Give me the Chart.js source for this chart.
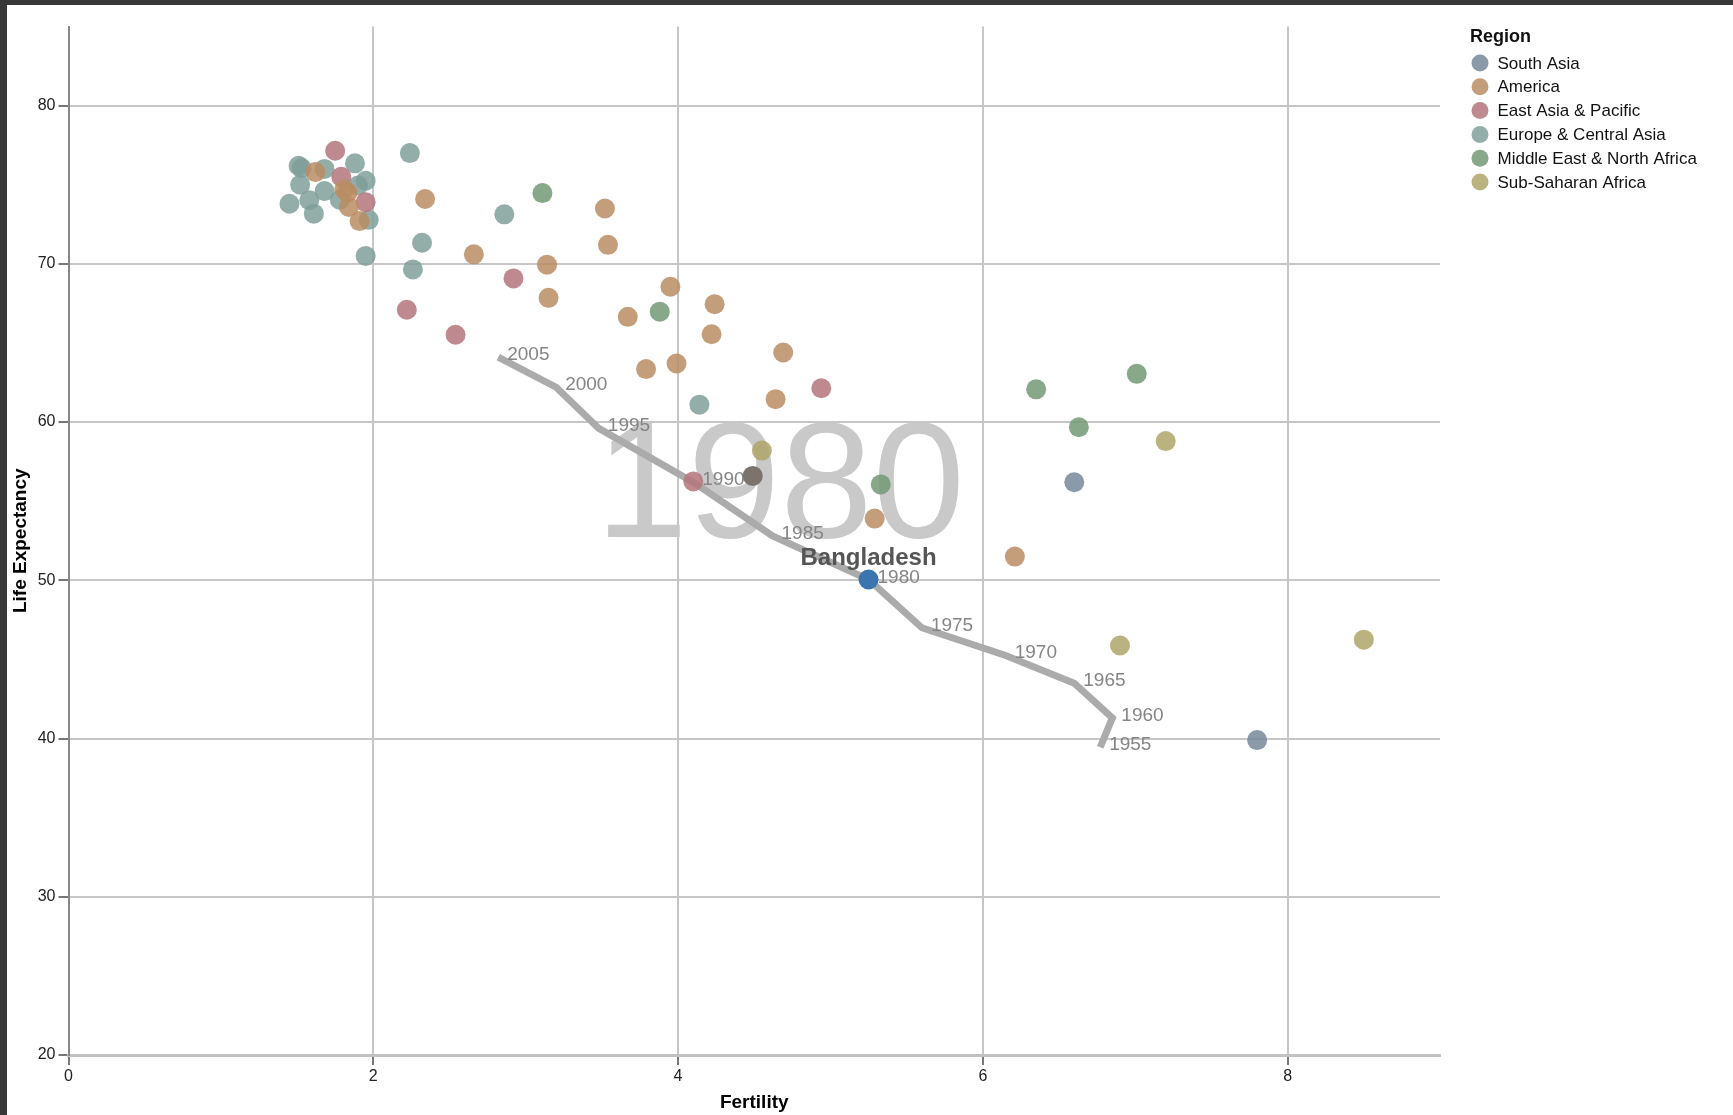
<!DOCTYPE html>
<html>
<head>
<meta charset="utf-8">
<title>Fertility vs Life Expectancy</title>
<script src="https://cdn.jsdelivr.net/npm/chart.js@4.4.1/dist/chart.umd.min.js"></script>
<style>
  html, body { margin: 0; padding: 0; background: #383838; }
  #frame { position: absolute; left: 7px; top: 5px; width: 1726px; height: 1110px; background: #fff; }
  canvas { display: block; }
</style>
</head>
<body>
<div id="frame"><canvas id="chart" width="1726" height="1110"></canvas></div>
<script>
// regions and their colours (legend order)
const regions = ['South Asia', 'America', 'East Asia & Pacific', 'Europe & Central Asia', 'Middle East & North Africa', 'Sub-Saharan Africa'];
const regionColors = [
  'rgba(117,136,153,0.85)',
  'rgba(186,141,100,0.85)',
  'rgba(180,117,123,0.85)',
  'rgba(128,159,154,0.85)',
  'rgba(115,153,117,0.85)',
  'rgba(175,166,104,0.85)'
];

// [fertility, life expectancy] for 1980
const southAsia = [[7.80, 39.9], [6.60, 56.2]];
const america = [
  [1.62, 75.8], [1.81, 74.7], [1.83, 74.5], [1.84, 73.6], [1.91, 72.7],
  [2.34, 74.1], [2.66, 70.6], [3.14, 69.95], [3.15, 67.85], [3.52, 73.5],
  [3.54, 71.2], [3.95, 68.55], [3.67, 66.65], [3.79, 63.35], [3.99, 63.7],
  [4.24, 67.45], [4.22, 65.55], [4.69, 64.4], [4.64, 61.45], [5.29, 53.9],
  [6.21, 51.5]
];
const eastAsia = [
  [1.75, 77.15], [1.79, 75.5], [1.95, 73.9], [2.22, 67.1], [2.54, 65.52],
  [2.92, 69.08], [4.94, 62.14], [4.10, 56.25]
];
const europe = [
  [1.88, 76.35], [1.51, 76.2], [1.53, 76.05], [1.68, 76.0], [1.95, 75.25],
  [1.52, 75.0], [1.90, 74.95], [1.68, 74.6], [1.45, 73.8], [1.58, 74.02],
  [1.61, 73.17], [1.78, 74.05], [1.97, 72.78], [1.95, 70.5], [2.24, 77.0],
  [2.32, 71.33], [2.26, 69.65], [2.86, 73.13], [4.14, 61.1]
];
const middleEast = [[3.11, 74.47], [3.88, 66.98], [5.33, 56.06], [6.35, 62.07], [7.01, 63.05], [6.63, 59.67]];
const subSaharan = [[4.55, 58.2], [7.20, 58.8], [6.90, 45.88], [8.50, 46.25]];
const hoveredCountry = [[4.49, 56.6]];
const selectedCountry = [[5.25, 50.05]];
const selectedName = 'Bangladesh';
const currentYear = '1980';

// Bangladesh trail
const trailYears = [1955, 1960, 1965, 1970, 1975, 1980, 1985, 1990, 1995, 2000, 2005];
const trailFertility = [6.77, 6.85, 6.60, 6.15, 5.60, 5.25, 4.62, 4.10, 3.48, 3.20, 2.82];
const trailLife = [39.45, 41.3, 43.5, 45.25, 47.0, 50.05, 52.8, 56.2, 59.6, 62.2, 64.1];

const FONT = '"Liberation Sans", Arial, Helvetica, sans-serif';
Chart.defaults.font.family = FONT;

const toPoints = arr => arr.map(p => ({x: p[0], y: p[1]}));
const regionData = [southAsia, america, eastAsia, europe, middleEast, subSaharan];

const datasets = [{
  label: 'trail',
  data: trailFertility.map((f, i) => ({x: f, y: trailLife[i]})),
  showLine: true,
  borderColor: '#ababab',
  borderWidth: 7,
  pointRadius: 0,
  tension: 0,
  order: 10
}];
regionData.forEach((arr, i) => {
  datasets.push({
    label: regions[i],
    data: toPoints(arr),
    pointBackgroundColor: regionColors[i],
    pointBorderWidth: 0,
    pointRadius: 10,
    pointHoverRadius: 10,
    order: 5
  });
});
datasets.push({
  label: 'hovered',
  data: toPoints(hoveredCountry),
  pointBackgroundColor: '#7b736e',
  pointBorderWidth: 0,
  pointRadius: 10,
  order: 2
});
datasets.push({
  label: 'selected',
  data: toPoints(selectedCountry),
  pointBackgroundColor: '#3b75af',
  pointBorderWidth: 0,
  pointRadius: 10,
  order: 1
});

// big year, trail year labels and country name
const annotations = {
  id: 'annotations',
  beforeDatasetsDraw(chart) {
    const {ctx, scales: {x, y}} = chart;
    ctx.save();
    ctx.font = '166px ' + FONT;
    ctx.fillStyle = '#c9c9c9';
    ctx.textAlign = 'center';
    ctx.textBaseline = 'alphabetic';
    ctx.fillText(currentYear, x.getPixelForValue(4.67), y.getPixelForValue(52.75));
    ctx.restore();
  },
  afterDatasetDraw(chart, args) {
    if (args.index !== 0) return;
    const {ctx, scales: {x, y}} = chart;
    ctx.save();
    ctx.font = '19px ' + FONT;
    ctx.fillStyle = '#858585';
    ctx.textAlign = 'left';
    ctx.textBaseline = 'alphabetic';
    trailYears.forEach((yr, i) => {
      ctx.fillText(String(yr), x.getPixelForValue(trailFertility[i]) + 9, y.getPixelForValue(trailLife[i]) + 3);
    });
    ctx.restore();
  },
  afterDatasetsDraw(chart) {
    const {ctx, scales: {x, y}} = chart;
    ctx.save();
    ctx.font = 'bold 24px ' + FONT;
    ctx.fillStyle = '#555';
    ctx.textAlign = 'center';
    ctx.textBaseline = 'alphabetic';
    ctx.fillText(selectedName, x.getPixelForValue(selectedCountry[0][0]), y.getPixelForValue(selectedCountry[0][1]) - 15);
    ctx.restore();
  }
};

// legend at the top right
const regionLegend = {
  id: 'regionLegend',
  afterDraw(chart) {
    const ctx = chart.ctx;
    const x0 = chart.chartArea.right + 30;
    ctx.save();
    ctx.textAlign = 'left';
    ctx.textBaseline = 'alphabetic';
    ctx.fillStyle = '#111';
    ctx.font = 'bold 18px ' + FONT;
    ctx.fillText('Region', x0, 37);
    ctx.font = '17px ' + FONT;
    ctx.textBaseline = 'middle';
    regions.forEach((name, i) => {
      const cy = 58 + i * 23.8;
      ctx.fillStyle = regionColors[i];
      ctx.beginPath();
      ctx.arc(x0 + 10, cy, 8.5, 0, Math.PI * 2);
      ctx.fill();
      ctx.fillStyle = '#111';
      ctx.fillText(name, x0 + 27.5, cy + 1);
    });
    ctx.restore();
  }
};

new Chart(document.getElementById('chart'), {
  type: 'scatter',
  data: { datasets },
  plugins: [annotations, regionLegend],
  options: {
    responsive: false,
    animation: false,
    layout: { padding: { top: 21.5, right: 293, left: 0, bottom: 0 } },
    plugins: {
      legend: { display: false },
      tooltip: { enabled: false }
    },
    scales: {
      x: {
        type: 'linear',
        min: 0,
        max: 9,
        ticks: { stepSize: 2, includeBounds: false, color: '#222', font: { size: 16 }, padding: 2, maxRotation: 0 },
        grid: { color: '#c6c6c6', lineWidth: 2, tickLength: 10, tickColor: '#777' },
        border: { color: '#c2c2c2', width: 3 },
        title: { display: true, text: 'Fertility', color: '#000', font: { size: 19, weight: 'bold' }, padding: { top: 0, bottom: 1 } },
        afterFit: s => { s.height = 60; }
      },
      y: {
        type: 'linear',
        min: 20,
        max: 85,
        ticks: { stepSize: 10, includeBounds: false, color: '#222', font: { size: 16 }, padding: 3 },
        grid: { color: '#c6c6c6', lineWidth: 2, tickLength: 10, tickColor: '#777' },
        border: { color: '#888', width: 2 },
        title: { display: true, text: 'Life Expectancy', color: '#000', font: { size: 19, weight: 'bold' }, padding: { top: 2, bottom: 0 } },
        afterFit: s => { s.width = 61.5; }
      }
    }
  }
});
</script>
</body>
</html>
